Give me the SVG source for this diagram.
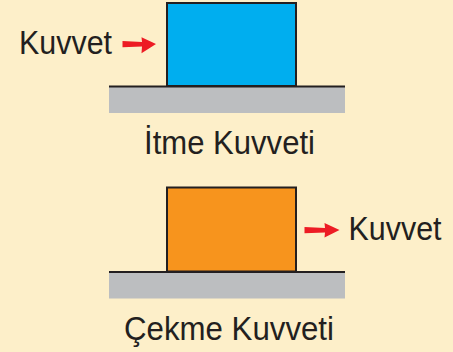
<svg xmlns="http://www.w3.org/2000/svg" width="453" height="352" viewBox="0 0 453 352">
<style>
.t{font-family:"Liberation Sans",Arial,sans-serif;font-size:32.5px;fill:#231F20}
.blk{stroke:#231F20;stroke-width:2}
.gnd{fill:#BCBEC0}
.gl{stroke:#231F20;stroke-width:2}
.arr{fill:#ED1C24}
</style>
<rect width="453" height="352" fill="#FDEFC9"/>
<g id="push">
<rect class="gnd" x="109" y="87" width="236" height="26"/>
<line class="gl" x1="109" y1="86.5" x2="345" y2="86.5"/>
<rect class="blk" x="167" y="3" width="129" height="83" fill="#00AEEF"/>
<text class="t" x="19" y="53.5" textLength="93" lengthAdjust="spacingAndGlyphs">Kuvvet</text>
<polygon class="arr" points="122.5,41 142,42 141.5,37.3 156,44 141.5,53.3 142,46.5 122.5,47.3"/>
<text class="t" x="144" y="154" textLength="171" lengthAdjust="spacingAndGlyphs">İtme Kuvveti</text>
</g>
<g id="pull">
<rect class="gnd" x="109" y="272.5" width="236" height="26"/>
<line class="gl" x1="109" y1="272" x2="345" y2="272"/>
<rect class="blk" x="167" y="187.5" width="129" height="84" fill="#F7941D"/>
<text class="t" x="348.5" y="239.5" textLength="93" lengthAdjust="spacingAndGlyphs">Kuvvet</text>
<polygon class="arr" points="304.5,227 325,228 324.5,223 339.5,230 324.5,237.5 325,232.5 304.5,233.3"/>
<text class="t" x="124" y="339.5" textLength="210" lengthAdjust="spacingAndGlyphs">Çekme Kuvveti</text>
</g>
</svg>
